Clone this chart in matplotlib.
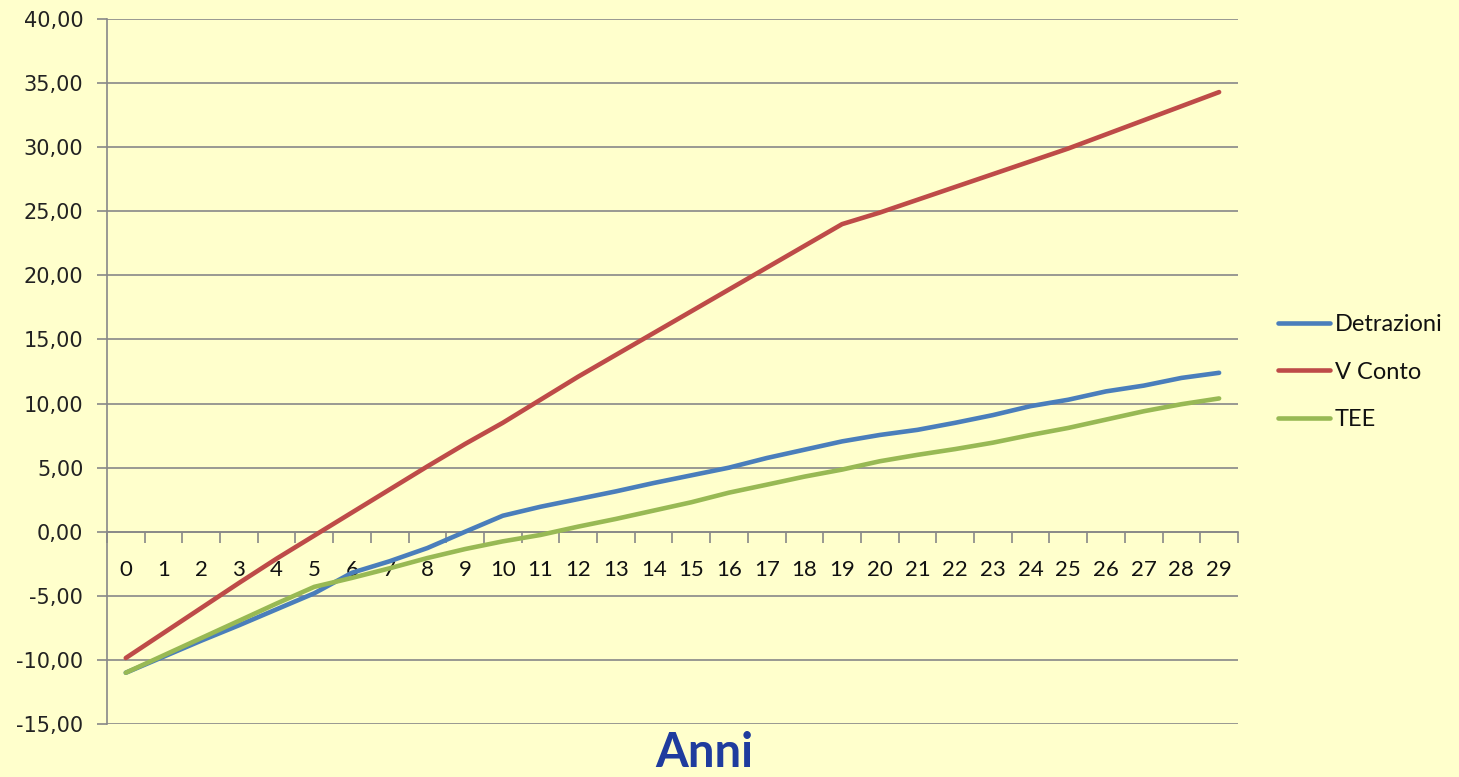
import matplotlib.pyplot as plt
from matplotlib.ticker import FixedLocator, FuncFormatter

# years on the category axis
anni = list(range(30))

detrazioni = [-11.0, -9.75, -8.5, -7.3, -6.05, -4.8, -3.2, -2.3, -1.27, 0.0,
              1.25, 1.95, 2.55, 3.15, 3.8, 4.4, 5.0, 5.75, 6.4, 7.05,
              7.55, 7.95, 8.5, 9.1, 9.8, 10.3, 10.95, 11.4, 12.0, 12.4]
v_conto = [-9.85, -7.9, -5.95, -4.0, -2.1, -0.3, 1.5, 3.3, 5.1, 6.85,
           8.5, 10.3, 12.1, 13.8, 15.5, 17.2, 18.9, 20.6, 22.3, 24.0,
           24.9, 25.9, 26.9, 27.9, 28.9, 29.9, 31.0, 32.1, 33.2, 34.3]
tee = [-11.0, -9.65, -8.3, -6.95, -5.6, -4.3, -3.6, -2.85, -2.05, -1.35,
       -0.75, -0.25, 0.4, 1.0, 1.65, 2.3, 3.05, 3.67, 4.3, 4.85,
       5.5, 6.0, 6.45, 6.95, 7.55, 8.1, 8.75, 9.4, 9.95, 10.4]

serie = ["Detrazioni", "V Conto", "TEE"]
colori = ["#4A7EBB", "#BE4B48", "#98B954"]

y_ticks = list(range(-15, 41, 5))

BG = "#FFFFCC"
GRID = "#888888"


def fmt_virgola(v, pos):
    return f"{v:.2f}".replace(".", ",")


fig = plt.figure(figsize=(14.59, 7.77), dpi=100, facecolor=BG)
ax = fig.add_axes([0.0733, 0.0682, 0.7752, 0.9073])
ax.set_facecolor(BG)

for valori, nome, col in zip([detrazioni, v_conto, tee], serie, colori):
    ax.plot(anni, valori, color=col, lw=3.3, label=nome,
            solid_capstyle="round", solid_joinstyle="round", zorder=3)

ax.set_xlim(-0.5, 29.5)
ax.set_ylim(-15, 40)

# y axis: gridlines every 5 with comma decimals
ax.yaxis.set_major_locator(FixedLocator(y_ticks))
ax.yaxis.set_major_formatter(FuncFormatter(fmt_virgola))
ax.grid(axis="y", color=GRID, lw=1.2, zorder=1)
ax.tick_params(axis="y", length=7, width=1.2, color=GRID, pad=10,
               labelsize=15, labelcolor="#222222")
for lab in ax.get_yticklabels():
    lab.set_family("DejaVu Sans")

# x axis crosses at zero, ticks on category boundaries, labels centred
ax.spines["bottom"].set_position(("data", 0))
ax.spines["bottom"].set_color(GRID)
ax.spines["bottom"].set_linewidth(1.2)
ax.spines["left"].set_color(GRID)
ax.spines["left"].set_linewidth(1.2)
ax.spines["top"].set_visible(False)
ax.spines["right"].set_visible(False)

ax.set_xticks([a - 0.5 for a in anni] + [29.5])
ax.set_xticklabels([])
ax.tick_params(axis="x", which="major", direction="out", length=8,
               width=1.2, color=GRID)
ax.set_xticks(anni, minor=True)
ax.set_xticklabels([str(a) for a in anni], minor=True, fontsize=16,
                   family="Lato", color="#111111")
ax.tick_params(axis="x", which="minor", length=0, pad=20)

leg = ax.legend(loc="center left", bbox_to_anchor=(0.876, 0.521),
                bbox_transform=fig.transFigure, frameon=False,
                fontsize=17, handlelength=2.2, handletextpad=0.2,
                labelspacing=1.12, borderpad=0, borderaxespad=0)
for t in leg.get_texts():
    t.set_family("Lato")
    t.set_color("#111111")

fig.text(0.483, 0.002, "Anni", ha="center", va="bottom", fontsize=34,
         fontweight="bold", family="Lato", color="#1F3C9E")

fig.savefig("out.png", dpi=100, facecolor=BG)
